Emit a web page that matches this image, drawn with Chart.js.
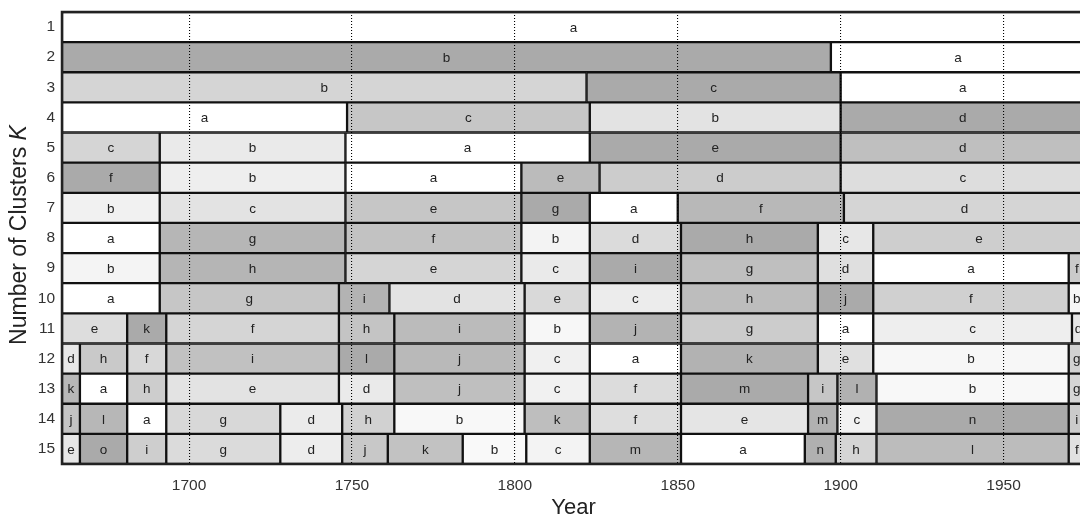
<!DOCTYPE html>
<html>
<head>
<meta charset="utf-8">
<script src="https://cdn.jsdelivr.net/npm/chart.js@4/dist/chart.umd.min.js"></script>
<style>
  html, body { margin: 0; padding: 0; background: #fff; overflow: hidden; }
</style>
</head>
<body>
<canvas id="tela" width="1088" height="519" style="width:1088px;height:519px;display:block"></canvas>
<script>
const numClusters = ['1', '2', '3', '4', '5', '6', '7', '8', '9', '10', '11', '12', '13', '14', '15'];
const yearMin = 1661;
const yearMax = 1975;
const yearTicks = [1700, 1750, 1800, 1850, 1900, 1950];

// cluster letters per row, left to right
const clusterLetters = [
  ['a'],
  ['b', 'a'],
  ['b', 'c', 'a'],
  ['a', 'c', 'b', 'd'],
  ['c', 'b', 'a', 'e', 'd'],
  ['f', 'b', 'a', 'e', 'd', 'c'],
  ['b', 'c', 'e', 'g', 'a', 'f', 'd'],
  ['a', 'g', 'f', 'b', 'd', 'h', 'c', 'e'],
  ['b', 'h', 'e', 'c', 'i', 'g', 'd', 'a', 'f'],
  ['a', 'g', 'i', 'd', 'e', 'c', 'h', 'j', 'f', 'b'],
  ['e', 'k', 'f', 'h', 'i', 'b', 'j', 'g', 'a', 'c', 'd'],
  ['d', 'h', 'f', 'i', 'l', 'j', 'c', 'a', 'k', 'e', 'b', 'g'],
  ['k', 'a', 'h', 'e', 'd', 'j', 'c', 'f', 'm', 'i', 'l', 'b', 'g'],
  ['j', 'l', 'a', 'g', 'd', 'h', 'b', 'k', 'f', 'e', 'm', 'c', 'n', 'i'],
  ['e', 'o', 'i', 'g', 'd', 'j', 'k', 'b', 'c', 'm', 'a', 'n', 'h', 'l', 'f']
];

// change-point years between clusters, per row
const changeYears = [
  [],
  [1897],
  [1822, 1900],
  [1748.5, 1823, 1900],
  [1691, 1748, 1823, 1900],
  [1691, 1748, 1802, 1826, 1900],
  [1691, 1748, 1802, 1823, 1850, 1901],
  [1691, 1748, 1802, 1823, 1851, 1893, 1910],
  [1691, 1748, 1802, 1823, 1851, 1893, 1910, 1970],
  [1691, 1746, 1761.5, 1803, 1823, 1851, 1893, 1910, 1970],
  [1681, 1693, 1746, 1763, 1803, 1823, 1851, 1893, 1910, 1971],
  [1666.5, 1681, 1693, 1746, 1763, 1803, 1823, 1851, 1893, 1910, 1970],
  [1666.5, 1681, 1693, 1746, 1763, 1803, 1823, 1851, 1890, 1899, 1911, 1970],
  [1666.5, 1681, 1693, 1728, 1747, 1763, 1803, 1823, 1851, 1890, 1899, 1911, 1970],
  [1666.5, 1681, 1693, 1728, 1747, 1761, 1784, 1803.5, 1823, 1851, 1889, 1898.5, 1911, 1970]
];

const fonte = "'Liberation Sans', Arial, Helvetica, sans-serif";

function corCluster(linha, letra) {
  const k = clusterLetters[linha].length;
  if (k < 2) return '#ffffff';
  const idx = letra.charCodeAt(0) - 97;
  const g = Math.round(255 - idx / (k - 1) * 85);
  return 'rgb(' + g + ',' + g + ',' + g + ')';
}

const maxSeg = Math.max(...clusterLetters.map(l => l.length));
const datasets = [];
for (let j = 0; j < maxSeg; j++) {
  datasets.push({
    data: numClusters.map((_, r) => {
      const bordas = [yearMin, ...changeYears[r], yearMax];
      return j < clusterLetters[r].length ? [bordas[j], bordas[j + 1]] : null;
    }),
    backgroundColor: ctx => {
      const letra = clusterLetters[ctx.dataIndex][j];
      return letra ? corCluster(ctx.dataIndex, letra) : '#fff';
    },
    borderColor: '#111',
    borderWidth: 1.5,
    borderSkipped: false,
    grouped: false,
    barPercentage: 1,
    categoryPercentage: 1
  });
}

const rotulos = {
  id: 'rotulos',
  afterDatasetsDraw(chart) {
    const ctx = chart.ctx;
    ctx.save();
    ctx.font = '13.5px ' + fonte;
    ctx.fillStyle = '#222';
    ctx.textAlign = 'center';
    ctx.textBaseline = 'middle';
    chart.data.datasets.forEach((ds, j) => {
      const meta = chart.getDatasetMeta(j);
      meta.data.forEach((el, r) => {
        const letra = clusterLetters[r][j];
        if (!letra) return;
        const p = el.getProps(['x', 'base', 'y'], true);
        ctx.fillText(letra, (p.x + p.base) / 2, p.y + 1);
      });
    });
    ctx.restore();
  },
  afterDraw(chart) {
    const ctx = chart.ctx;
    const a = chart.chartArea;
    ctx.save();
    ctx.strokeStyle = '#222';
    ctx.lineWidth = 2.5;
    ctx.strokeRect(a.left, a.top, a.right - a.left, a.bottom - a.top);

    // axis titles
    ctx.fillStyle = '#222';
    ctx.textBaseline = 'middle';
    ctx.font = '22px ' + fonte;
    ctx.textAlign = 'center';
    ctx.fillText('Year', (a.left + a.right) / 2, 508);

    ctx.font = '23px ' + fonte;
    const t1 = 'Number of Clusters ';
    const w1 = ctx.measureText(t1).width;
    ctx.font = 'italic 23px ' + fonte;
    const w2 = ctx.measureText('K').width;
    ctx.translate(20, 235);
    ctx.rotate(-Math.PI / 2);
    ctx.textAlign = 'left';
    ctx.font = '23px ' + fonte;
    ctx.fillText(t1, -(w1 + w2) / 2, 0);
    ctx.font = 'italic 23px ' + fonte;
    ctx.fillText('K', -(w1 + w2) / 2 + w1, 0);
    ctx.restore();
  }
};

new Chart(document.getElementById('tela'), {
  type: 'bar',
  data: { labels: numClusters, datasets: datasets },
  options: {
    indexAxis: 'y',
    responsive: false,
    animation: false,
    layout: { padding: { left: 0, top: 12, right: 3, bottom: 0 } },
    plugins: {
      legend: { display: false },
      tooltip: { enabled: false }
    },
    scales: {
      x: {
        type: 'linear',
        position: 'bottom',
        min: yearMin,
        max: yearMax,
        afterBuildTicks: s => { s.ticks = yearTicks.map(v => ({ value: v })); },
        afterFit: s => { s.height = 55; s.paddingLeft = 0; s.paddingRight = 0; },
        grid: { z: 1, color: '#000', lineWidth: 1.1, borderDash: [1, 2], drawTicks: false },
        border: { display: false, dash: [1, 2] },
        ticks: {
          font: { family: fonte, size: 15.5 },
          color: '#333',
          padding: 12,
          autoSkip: false,
          maxRotation: 0,
          callback: v => String(v)
        }
      },
      y: {
        type: 'category',
        afterFit: s => { s.width = 62; s.paddingTop = 0; s.paddingBottom = 0; },
        grid: { display: false, drawTicks: false },
        border: { display: false },
        ticks: {
          font: { family: fonte, size: 15.5 },
          color: '#333',
          padding: 7
        }
      }
    }
  },
  plugins: [rotulos]
});
</script>
</body>
</html>
